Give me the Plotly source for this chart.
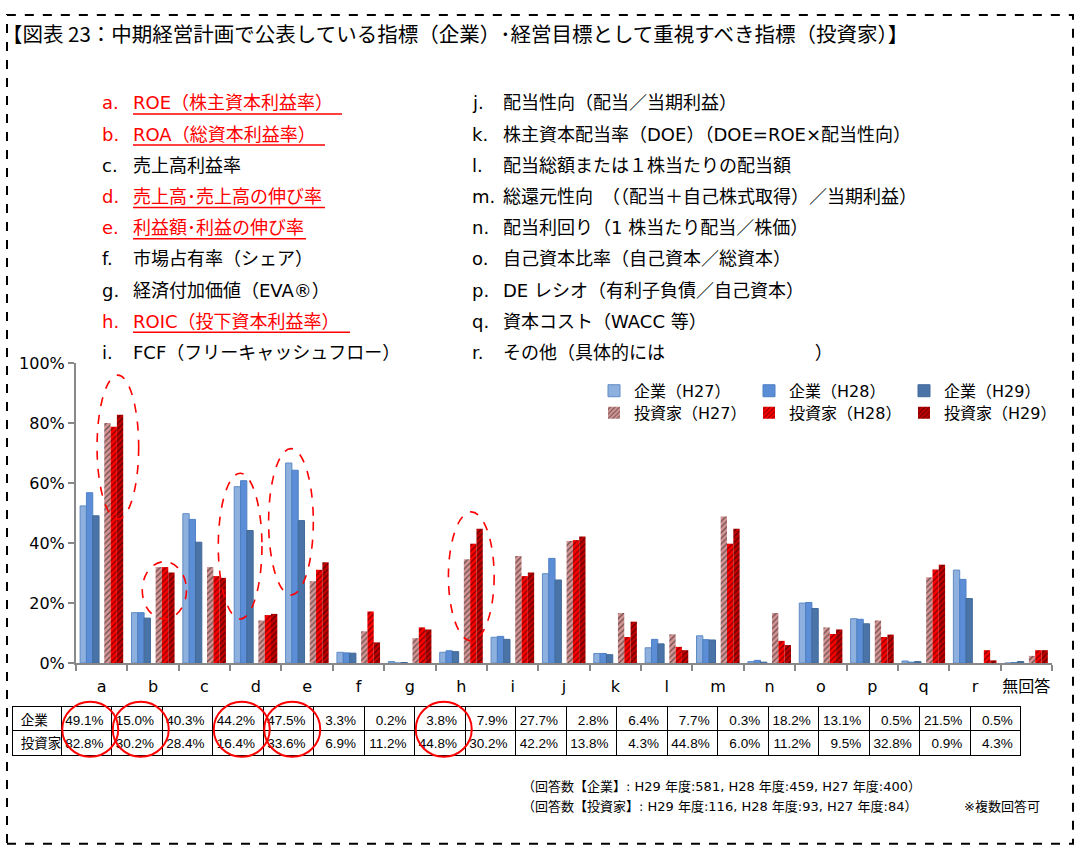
import plotly.graph_objects as go

# the photographed page shows the figure a little squeezed vertically and pushed down,
# so reference pixel rows are mapped back through that before placing things
W, H = 1085, 856
Y_SCALE, Y_SHIFT = 0.978, 8.1

# categories (a..r + no answer)
categories = ["a", "b", "c", "d", "e", "f", "g", "h", "i", "j", "k", "l", "m", "n", "o", "p", "q", "r", "無回答"]

# 企業 (companies) share, %
company_h27 = [52.4, 16.8, 49.8, 58.8, 66.7, 3.6, 0.5, 3.6, 8.6, 29.8, 3.2, 5.1, 9.1, 0.5, 20.0, 14.8, 0.7, 31.0, 0.0]
company_h28 = [56.8, 16.8, 47.9, 60.8, 64.3, 3.4, 0.0, 4.1, 8.9, 34.9, 3.2, 7.9, 7.8, 0.9, 20.2, 14.6, 0.3, 27.9, 0.2]
company_h29 = [49.1, 15.0, 40.3, 44.2, 47.5, 3.3, 0.2, 3.8, 7.9, 27.7, 2.8, 6.4, 7.7, 0.3, 18.2, 13.1, 0.5, 21.5, 0.5]

# 投資家 (investors) share, %
investor_h27 = [80.0, 32.0, 32.0, 14.2, 27.3, 10.6, 8.3, 34.6, 35.7, 40.7, 16.7, 9.6, 48.9, 16.7, 11.9, 14.2, 28.6, 0.0, 2.4]
investor_h28 = [78.8, 32.0, 29.0, 16.0, 31.1, 17.2, 11.9, 39.8, 29.0, 41.0, 8.7, 5.4, 39.8, 7.4, 9.7, 8.7, 31.2, 4.3, 4.3]
investor_h29 = [82.8, 30.2, 28.4, 16.4, 33.6, 6.9, 11.2, 44.8, 30.2, 42.2, 13.8, 4.3, 44.8, 6.0, 11.2, 9.5, 32.8, 0.9, 4.3]

y_ticks = [0, 20, 40, 60, 80, 100]
y_ticktext = [f"{v}%" for v in y_ticks]

left_items = [
    ("a.", "ROE（株主資本利益率）"),
    ("b.", "ROA（総資本利益率）"),
    ("c.", "売上高利益率"),
    ("d.", "売上高･売上高の伸び率"),
    ("e.", "利益額･利益の伸び率"),
    ("f.", "市場占有率（シェア）"),
    ("g.", "経済付加価値（EVA®）"),
    ("h.", "ROIC（投下資本利益率）"),
    ("i.", "FCF（フリーキャッシュフロー）"),
]
right_items = [
    ("j.", "配当性向（配当／当期利益）"),
    ("k.", "株主資本配当率（DOE）（DOE=ROE×配当性向）"),
    ("l.", "配当総額または１株当たりの配当額"),
    ("m.", "総還元性向　（（配当＋自己株式取得）／当期利益）"),
    ("n.", "配当利回り（1 株当たり配当／株価）"),
    ("o.", "自己資本比率（自己資本／総資本）"),
    ("p.", "DE レシオ（有利子負債／自己資本）"),
    ("q.", "資本コスト（WACC 等）"),
    ("r.", "その他（具体的には　　　　　　　　 ）"),
]
highlighted = ["a", "b", "d", "e", "h"]

CJK = "Noto Sans CJK JP"
LATIN = "DejaVu Sans, Noto Sans CJK JP"


def px(x):
    return x / W


def fy(y):
    # reference pixel row -> figure pixel row
    return (y - Y_SHIFT) / Y_SCALE


def py(y):
    return min(1.0, max(0.0, 1 - fy(y) / H))


fig = go.Figure()

bar_w = 0.123
company_series = [
    ("企業（H27）", company_h27, "#8DB0DE", "#5F8BC5", -0.42),
    ("企業（H28）", company_h28, "#5B8ED6", "#4F80C4", -0.297),
    ("企業（H29）", company_h29, "#4A74A8", "#42699A", -0.174),
]
investor_series = [
    ("投資家（H27）", investor_h27, "#D49595", 0.05),
    ("投資家（H28）", investor_h28, "#FF0000", 0.173),
    ("投資家（H29）", investor_h29, "#C00000", 0.296),
]

for name, vals, col, edge, off in company_series:
    fig.add_trace(go.Bar(
        x=categories, y=vals, name=name, width=bar_w, offset=off,
        marker=dict(color=col, line=dict(color=edge, width=1)),
        legend="legend",
    ))

for name, vals, col, off in investor_series:
    fig.add_trace(go.Bar(
        x=categories, y=vals, name=name, width=bar_w, offset=off,
        marker=dict(color=col, line=dict(width=0),
                    pattern=dict(shape="/", fgcolor="black", size=4, solidity=0.3)),
        legend="legend2",
    ))

# summary table (H29 values)
comp_txt = [f"{v:.1f}%" for v in company_h29]
inv_txt = [f"{v:.1f}%" for v in investor_h29]
fig.add_trace(go.Table(
    domain=dict(x=[px(12.7), px(1020.7)], y=[py(780), py(706)]),
    columnwidth=[48.3] + [50.5] * len(categories),
    header=dict(
        values=["企業"] + comp_txt,
        height=(729 - 706) / Y_SCALE,
        align=["left"] + ["right"] * len(categories),
        fill_color="white",
        line=dict(color="black", width=1),
        font=dict(family="Liberation Sans, " + CJK, size=13.5, color="black"),
    ),
    cells=dict(
        values=[["投資家"]] + [[t] for t in inv_txt],
        height=(754 - 729) / Y_SCALE,
        align=["left"] + ["right"] * len(categories),
        fill_color="white",
        line=dict(color="black", width=1),
        font=dict(family="Liberation Sans, " + CJK, size=13.5, color="black"),
    ),
))

shapes = []
# dashed frame
shapes.append(dict(type="rect", xref="paper", yref="paper",
                   x0=px(7), x1=px(1073), y0=py(843), y1=py(14),
                   line=dict(color="black", width=2, dash="dash")))

# ellipses around highlighted bars (category index units / %)
ellipses = [(-0.09, 0.72, 48, 96), (0.79, 1.65, 14.7, 33.8), (2.27, 3.12, 14.7, 63.3),
            (3.25, 4.12, 22.7, 71.5), (6.75, 7.64, 7.4, 50.4)]
for x0, x1, y0, y1 in ellipses:
    shapes.append(dict(type="circle", xref="x", yref="y", x0=x0, x1=x1, y0=y0, y1=y1,
                       line=dict(color="#FF0000", width=1.6, dash="dash")))

# circles around table cells
for cat in highlighted:
    i = categories.index(cat)
    cx = 61 + 50.5 * (i + 0.5) + 4
    shapes.append(dict(type="circle", xref="paper", yref="paper",
                       x0=px(cx - 28), x1=px(cx + 28), y0=py(756), y1=py(701),
                       line=dict(color="#FF0000", width=2)))

# underlines of highlighted list items
underline_ends = {"a": 342, "b": 325, "d": 325, "e": 306, "h": 350}
row_y = [102 + 31.2 * k for k in range(9)]
for k, (lab, txt) in enumerate(left_items):
    key = lab[0]
    if key in underline_ends:
        shapes.append(dict(type="line", xref="paper", yref="paper",
                           x0=px(133), x1=px(underline_ends[key]),
                           y0=py(row_y[k] + 11), y1=py(row_y[k] + 11),
                           line=dict(color="#FF0000", width=1.5)))

annotations = []
annotations.append(dict(
    text="【図表 23：中期経営計画で公表している指標（企業）･経営目標として重視すべき指標（投資家）】",
    xref="paper", yref="paper", x=px(0), y=py(32), xanchor="left", yanchor="middle",
    showarrow=False, font=dict(family=CJK, size=20.5, color="black")))

for k, (lab, txt) in enumerate(left_items):
    col = "#FF0000" if lab[0] in highlighted else "black"
    annotations.append(dict(text=lab, xref="paper", yref="paper", x=px(100), y=py(row_y[k]),
                            xanchor="left", yanchor="middle", showarrow=False,
                            font=dict(family=LATIN, size=18, color=col)))
    annotations.append(dict(text=txt, xref="paper", yref="paper", x=px(131), y=py(row_y[k]),
                            xanchor="left", yanchor="middle", showarrow=False,
                            font=dict(family=LATIN, size=18, color=col)))
for k, (lab, txt) in enumerate(right_items):
    annotations.append(dict(text=lab, xref="paper", yref="paper", x=px(470), y=py(row_y[k]),
                            xanchor="left", yanchor="middle", showarrow=False,
                            font=dict(family=LATIN, size=18, color="black")))
    annotations.append(dict(text=txt, xref="paper", yref="paper", x=px(501), y=py(row_y[k]),
                            xanchor="left", yanchor="middle", showarrow=False,
                            font=dict(family=LATIN, size=18, color="black")))

notes = [
    ("（回答数【企業】: H29 年度:581, H28 年度:459, H27 年度:400）", 520, 786),
    ("（回答数【投資家】: H29 年度:116, H28 年度:93, H27 年度:84）", 520, 806),
    ("※複数回答可", 962, 806),
]
for txt, x, y in notes:
    annotations.append(dict(text=txt, xref="paper", yref="paper", x=px(x), y=py(y),
                            xanchor="left", yanchor="middle", showarrow=False,
                            font=dict(family=LATIN, size=13, color="black")))

fig.update_layout(
    width=W, height=H,
    margin=dict(l=0, r=0, t=0, b=0),
    paper_bgcolor="white",
    plot_bgcolor="white",
    barmode="overlay",
    font=dict(family=LATIN, color="black"),
    xaxis=dict(
        domain=[px(76), px(1052)],
        tickangle=0,
        ticklabelstandoff=8,
        tickfont=dict(family=LATIN, size=16, color="black"),
        showline=True, linecolor="#888888", linewidth=2,
        ticks="outside", tickson="boundaries", ticklen=6, tickcolor="#888888", tickwidth=1.5,
        showgrid=False,
    ),
    yaxis=dict(
        domain=[py(662.3), py(362.3)],
        range=[0, 100],
        tickvals=y_ticks,
        ticktext=y_ticktext,
        tickfont=dict(family=LATIN, size=16, color="black"),
        showline=True, linecolor="#888888", linewidth=2,
        ticks="outside", ticklen=6, tickcolor="#888888", tickwidth=1.5,
        showgrid=False, zeroline=False,
    ),
    legend=dict(orientation="h", x=px(594), y=py(373), xanchor="left", yanchor="top",
                entrywidth=110, itemwidth=30, bgcolor="rgba(0,0,0,0)",
                font=dict(family=LATIN, size=16, color="black")),
    legend2=dict(orientation="h", x=px(594), y=py(395), xanchor="left", yanchor="top",
                 entrywidth=110, itemwidth=30, bgcolor="rgba(0,0,0,0)",
                 font=dict(family=LATIN, size=16, color="black")),
    shapes=shapes,
    annotations=annotations,
)

fig.write_html("out.html", config={"displayModeBar": False},
               post_script="document.body.style.margin='0';document.body.style.overflow='hidden';")
